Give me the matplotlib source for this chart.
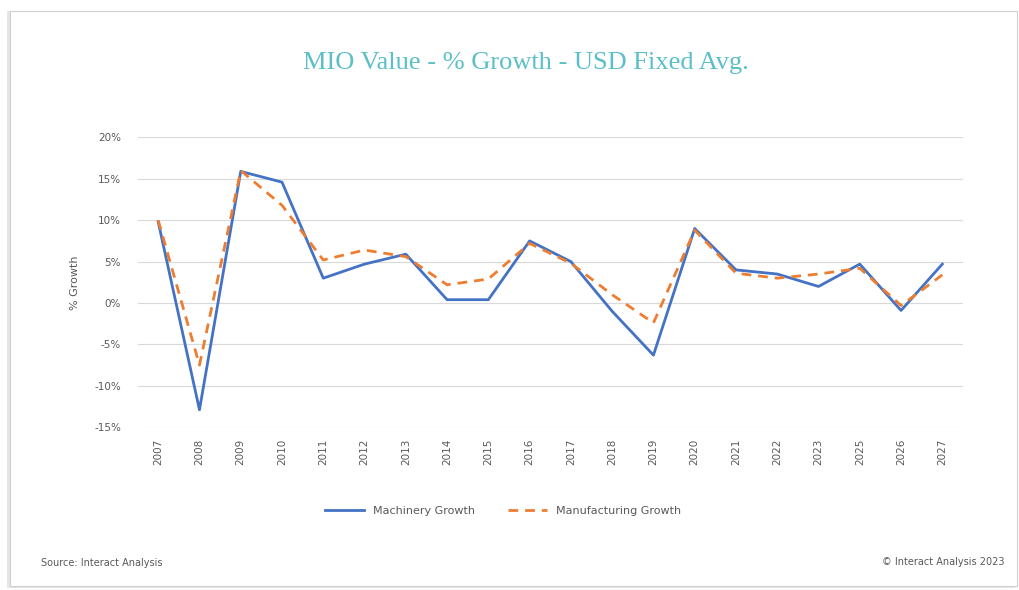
import numpy as np
import matplotlib
matplotlib.use("Agg")
import matplotlib.pyplot as plt
from matplotlib.patches import Rectangle
from matplotlib.ticker import FuncFormatter

# data
years = ['2007', '2008', '2009', '2010', '2011', '2012', '2013', '2014', '2015', '2016',
         '2017', '2018', '2019', '2020', '2021', '2022', '2023', '2025', '2026', '2027']
machinery = [9.8, -12.9, 15.9, 14.6, 3.0, 4.7, 5.9, 0.4, 0.4, 7.5,
             5.0, -1.0, -6.3, 9.0, 4.0, 3.5, 2.0, 4.7, -0.9, 4.7]
manufacturing = [10.0, -7.5, 16.0, 11.8, 5.2, 6.4, 5.6, 2.2, 2.9, 7.2,
                 4.8, 1.0, -2.4, 8.8, 3.6, 3.0, 3.5, 4.2, -0.3, 3.4]

fig = plt.figure(figsize=(10.19, 5.90), dpi=100)

# card frame with soft shadow
fig.patches.append(Rectangle((7 / 1019, 2 / 590), 1008 / 1019, 577 / 590, transform=fig.transFigure,
                             facecolor='#e6e6e6', edgecolor='none', zorder=0))
fig.patches.append(Rectangle((10 / 1019, 4 / 590), 1007 / 1019, 575 / 590, transform=fig.transFigure,
                             facecolor='white', edgecolor='#d0d0d0', linewidth=0.8, zorder=1))

ax = fig.add_axes([0.135, 0.276, 0.81, 0.491])
ax.set_zorder(2)
ax.patch.set_alpha(0)

x = np.arange(len(years))
ax.plot(x, machinery, color='#4472C4', linewidth=2.0, label='Machinery Growth')
ax.plot(x, manufacturing, color='#ED7D31', linewidth=2.0, linestyle=(0, (3.5, 2.5)),
        label='Manufacturing Growth')

ax.set_xlim(-0.5, len(years) - 0.5)
ax.set_ylim(-15, 20)
ax.set_yticks(np.arange(-15, 21, 5))
ax.yaxis.set_major_formatter(FuncFormatter(lambda v, p: f'{v:.0f}%'))
ax.set_xticks(x)
ax.set_xticklabels(years, rotation=90)
ax.grid(axis='y', color='#d9d9d9', linewidth=0.8)
ax.set_axisbelow(True)
for s in ax.spines.values():
    s.set_visible(False)
ax.tick_params(length=0, colors='#595959', labelsize=7.5)
ax.tick_params(axis='x', pad=8)
ax.tick_params(axis='y', pad=12)
ax.set_ylabel('% Growth', color='#595959', fontsize=8, labelpad=10)

fig.text(0.516, 0.893, 'MIO Value - % Growth - USD Fixed Avg.', ha='center', va='center',
         color='#5bbfc7', fontsize=19, family='Liberation Serif')

leg = fig.legend(loc='center', bbox_to_anchor=(0.494, 0.134), ncol=2, frameon=False,
                 fontsize=8, handlelength=3.5, columnspacing=3)
for t in leg.get_texts():
    t.set_color('#595959')

fig.text(0.04, 0.04, 'Source: Interact Analysis', color='#595959', fontsize=7)
fig.text(0.986, 0.042, '\u00a9 Interact Analysis 2023', color='#595959', fontsize=7, ha='right')

fig.savefig('out.png', dpi=100)
